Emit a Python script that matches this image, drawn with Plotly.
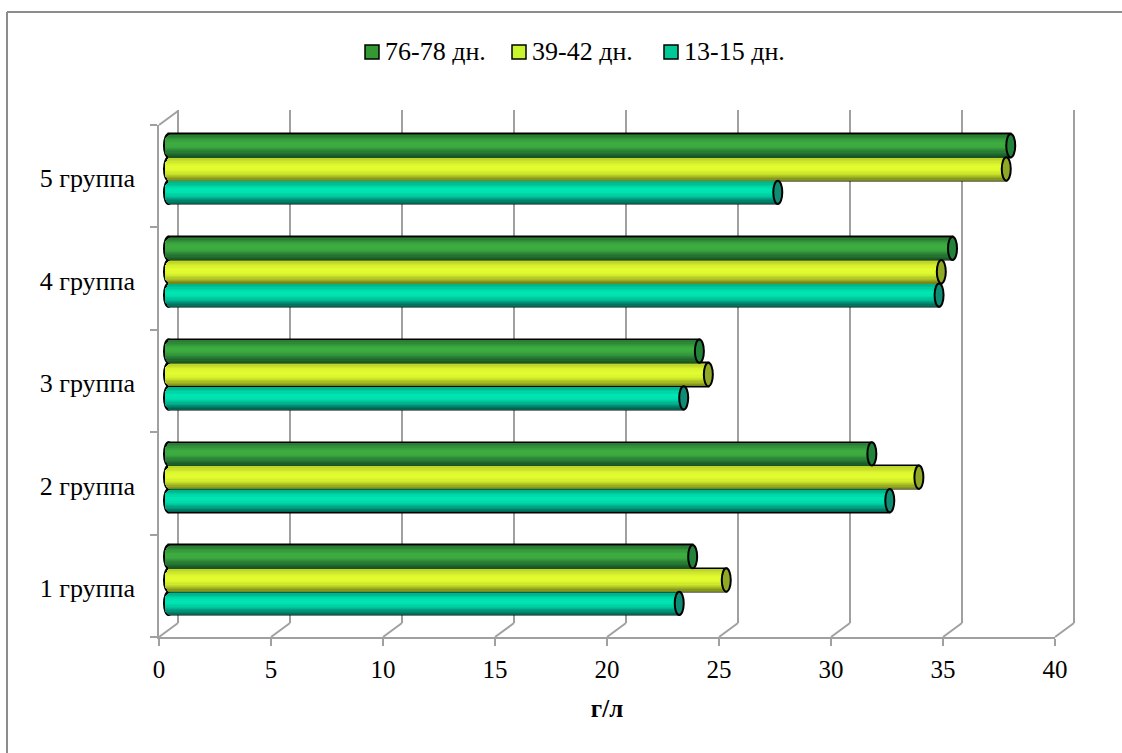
import plotly.graph_objects as go

W, H = 1122, 753

groups = ["1 группа", "2 группа", "3 группа", "4 группа", "5 группа"]
series_names = ["13-15 дн.", "39-42 дн.", "76-78 дн."]
values_13_15 = [22.8, 32.2, 23.0, 34.4, 27.2]
values_39_42 = [24.9, 33.5, 24.1, 34.5, 37.4]
values_76_78 = [23.4, 31.4, 23.7, 35.0, 37.6]
x_ticks = [0, 5, 10, 15, 20, 25, 30, 35, 40]

series_values = [values_13_15, values_39_42, values_76_78]
series_offsets = [-0.2268, 0.0, 0.2268]
legend_colors = ["#00C896", "#C8F52D", "#339933"]
cap_colors = ["#0E8C74", "#8FA826", "#22823A"]
# shading stops run from the lower edge of a cylinder to its upper edge
ramp_stops = [
    ["#006450", "#009078", "#00C098", "#00E0AE", "#00E6B2", "#00D4A6", "#00B48C"],
    ["#76861A", "#A6BA24", "#CCE62A", "#DFF92F", "#E2FC30", "#D6F02E", "#BED62A"],
    ["#185424", "#236F30", "#2F8C39", "#3CA93F", "#3EAE40", "#369C3D", "#2A7F35"],
]
STRIPS = 18

SERIES_H = 0.2268
CAP_PX = 4.5
AXIS_GRAY = "#A0A0A0"

# front plane of the chart box, in pixels
LEFT, RIGHT, TOP, BOTTOM = 159, 1055, 125, 637
SCALE_PX = (RIGHT - LEFT) / 40
DEPTH_X, DEPTH_Y = 19, 14
# vertical extent of the plane holding the cylinders
BAR_TOP, BAR_BOTTOM = 117.6, 631.4
# room beside the plot edges so end marks and edge gridlines survive
BAR_PAD_PX = 8
GRID_PAD_PX = 4


def x_domain(shift, pad_left=0, pad_right=0):
    return [(LEFT + shift - pad_left) / W, (RIGHT + shift + pad_right) / W]


def y_domain(top, bottom):
    return [1 - bottom / H, 1 - top / H]


def ramp_color(stops, t):
    pos = t * (len(stops) - 1)
    i = min(int(pos), len(stops) - 2)
    f = pos - i
    a = [int(stops[i][j:j + 2], 16) for j in (1, 3, 5)]
    b = [int(stops[i + 1][j:j + 2], 16) for j in (1, 3, 5)]
    return "#" + "".join(f"{round(p + (q - p) * f):02X}" for p, q in zip(a, b))


fig = go.Figure()
tick_font = dict(family="Liberation Serif", size=25, color="#000000")
group_font = dict(family="Liberation Serif", size=26, color="#000000")

# outlined base bars
for idx in [2, 1, 0]:
    fig.add_trace(go.Bar(
        y=groups, x=series_values[idx], orientation="h", name=series_names[idx],
        width=SERIES_H, offset=series_offsets[idx] - SERIES_H / 2,
        marker=dict(color=legend_colors[idx], line=dict(color="#000000", width=2)),
        xaxis="x3", yaxis="y3", hoverinfo="skip", showlegend=False,
    ))

# shaded strips that make each bar read as a cylinder
for idx in range(3):
    strip = (SERIES_H - 0.014) / STRIPS
    for k in range(STRIPS):
        t = (k + 0.5) / STRIPS * 2 - 1
        edge = (1 - t * t) ** 0.5 * CAP_PX / SCALE_PX
        fig.add_trace(go.Bar(
            y=groups, x=[v + edge for v in series_values[idx]], base=-edge,
            orientation="h", width=strip * 1.1,
            offset=series_offsets[idx] - SERIES_H / 2 + 0.007 + k * strip,
            marker=dict(color=ramp_color(ramp_stops[idx], k / (STRIPS - 1)), line=dict(width=0)),
            xaxis="x3", yaxis="y3", showlegend=False, hoverinfo="skip",
        ))

shapes = []
# outlined end caps of the cylinders
for idx in range(3):
    for g, v in enumerate(series_values[idx]):
        y_c = g + series_offsets[idx]
        y0, y1 = y_c - SERIES_H / 2, y_c + SERIES_H / 2
        shapes.append(dict(
            type="circle", xref="x3", yref="y3", xsizemode="pixel", xanchor=0,
            x0=-CAP_PX, x1=CAP_PX, y0=y0, y1=y1, layer="below",
            fillcolor="#000000", line=dict(color="#000000", width=2),
        ))
        shapes.append(dict(
            type="circle", xref="x3", yref="y3", xsizemode="pixel", xanchor=v,
            x0=-CAP_PX, x1=CAP_PX, y0=y0, y1=y1, layer="above",
            fillcolor=cap_colors[idx], line=dict(color="#000000", width=2),
        ))

# floor lines joining the front axis ticks to the back wall
for t in x_ticks:
    front_x = LEFT + t * SCALE_PX
    shapes.append(dict(
        type="line", xref="paper", yref="paper",
        x0=front_x / W, x1=(front_x + DEPTH_X) / W,
        y0=1 - BOTTOM / H, y1=1 - (BOTTOM - DEPTH_Y) / H,
        layer="below", line=dict(color=AXIS_GRAY, width=2),
    ))
shapes.append(dict(
    type="line", xref="paper", yref="paper",
    x0=LEFT / W, x1=(LEFT + DEPTH_X) / W,
    y0=1 - TOP / H, y1=1 - (TOP - DEPTH_Y) / H,
    layer="below", line=dict(color=AXIS_GRAY, width=2),
))
# chart frame: only the top and left edges fall inside the page
shapes.append(dict(
    type="line", xref="paper", yref="paper",
    x0=7 / W, x1=1, y0=1 - 12 / H, y1=1 - 12 / H,
    layer="below", line=dict(color="#8C8C8C", width=2),
))
shapes.append(dict(
    type="line", xref="paper", yref="paper",
    x0=7 / W, x1=7 / W, y0=0, y1=1 - 12 / H,
    layer="below", line=dict(color="#8C8C8C", width=2),
))

# legend row: swatch followed by its label, newest series first
annotations = []
legend_swatch_px = [365, 512, 664]
for idx, sx in zip([2, 1, 0], legend_swatch_px):
    shapes.append(dict(
        type="rect", xref="paper", yref="paper",
        x0=sx / W, x1=(sx + 14) / W, y0=1 - 59 / H, y1=1 - 45 / H, layer="above",
        fillcolor=legend_colors[idx], line=dict(color="#000000", width=1.5),
    ))
    annotations.append(dict(
        text=series_names[idx], xref="paper", yref="paper", showarrow=False,
        x=(sx + 17.5) / W, xanchor="left", y=1 - 52 / H, yanchor="middle",
        font=dict(family="Liberation Serif", size=26, color="#000000"),
    ))

fig.update_layout(
    width=W, height=H, margin=dict(l=0, r=0, t=0, b=0, autoexpand=False),
    paper_bgcolor="#FFFFFF", plot_bgcolor="rgba(0,0,0,0)",
    barmode="overlay", bargap=0, shapes=shapes, annotations=annotations,
    showlegend=False,
    font=dict(family="Liberation Serif", color="#000000"),
    xaxis=dict(
        domain=x_domain(0), range=[0, 40], tickvals=x_ticks, ticks="outside", ticklen=7,
        tickcolor=AXIS_GRAY, tickwidth=2, showline=True, linecolor=AXIS_GRAY, linewidth=2,
        showgrid=False, zeroline=False, tickfont=tick_font, automargin=False,
        ticklabelstandoff=2,
        title=dict(text="<b>г/л</b>", font=dict(family="Liberation Serif", size=25), standoff=17),
        anchor="y",
    ),
    yaxis=dict(
        domain=y_domain(TOP, BOTTOM), type="category", categoryorder="array", categoryarray=groups,
        range=[-0.5, 4.5], ticks="outside", ticklen=7, tickson="boundaries",
        tickcolor=AXIS_GRAY, tickwidth=2, showline=True, linecolor=AXIS_GRAY, linewidth=2,
        showgrid=False, zeroline=False, showticklabels=False, automargin=False, anchor="x",
    ),
    # back wall carrying the vertical gridlines
    xaxis2=dict(
        domain=x_domain(DEPTH_X, GRID_PAD_PX, GRID_PAD_PX),
        range=[-GRID_PAD_PX / SCALE_PX, 40 + GRID_PAD_PX / SCALE_PX],
        tickvals=x_ticks, showgrid=True,
        gridcolor=AXIS_GRAY, gridwidth=2, zeroline=False, showticklabels=False,
        automargin=False, anchor="y2",
    ),
    yaxis2=dict(
        domain=y_domain(TOP - DEPTH_Y - 1, BOTTOM - DEPTH_Y), range=[0, 1], showgrid=False,
        zeroline=False, showticklabels=False, automargin=False, anchor="x2",
    ),
    # mid-depth plane holding the cylinders
    xaxis3=dict(
        domain=x_domain(DEPTH_X / 2, BAR_PAD_PX), range=[-BAR_PAD_PX / SCALE_PX, 40],
        showgrid=False, zeroline=False, showticklabels=False, automargin=False, anchor="y3",
    ),
    yaxis3=dict(
        domain=y_domain(BAR_TOP, BAR_BOTTOM), type="category", categoryorder="array",
        categoryarray=groups, range=[-0.5, 4.5], showgrid=False, zeroline=False,
        showticklabels=False, automargin=False, anchor="x3",
    ),
    # group names sit a little below the band centres of the front axis
    yaxis4=dict(
        domain=y_domain(TOP + 2, BOTTOM + 2), type="category", categoryorder="array",
        categoryarray=groups, range=[-0.5, 4.5], showgrid=False, zeroline=False,
        showline=False, ticks="", tickfont=group_font, ticklabelstandoff=23,
        automargin=False, anchor="x",
    ),
)

# empty traces keep the axis-only subplots alive
fig.add_trace(go.Scatter(x=[None], y=[None], xaxis="x2", yaxis="y2", showlegend=False, hoverinfo="skip"))
fig.add_trace(go.Scatter(x=[None], y=[None], xaxis="x", yaxis="y", showlegend=False, hoverinfo="skip"))
fig.add_trace(go.Scatter(x=[None] * len(groups), y=groups, xaxis="x", yaxis="y4", showlegend=False, hoverinfo="skip"))

fig.write_html("out.html")
